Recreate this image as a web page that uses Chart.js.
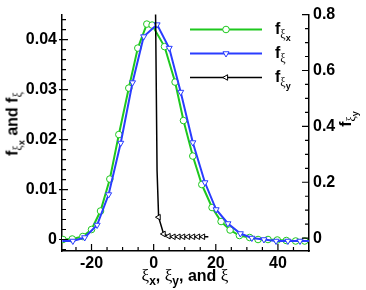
<!DOCTYPE html>
<html><head><meta charset="utf-8">
<script src="https://cdn.jsdelivr.net/npm/chart.js@4.4.1/dist/chart.umd.min.js"></script>
<style>
html,body{margin:0;padding:0;background:#fff;}
#wrap{position:relative;width:366px;height:290px;overflow:hidden;}
canvas{position:absolute;left:0;top:0;}
.t{position:absolute;white-space:nowrap;font:bold 16px "Liberation Sans",Arial,sans-serif;color:#000;line-height:normal;}
.g{font-family:"Liberation Serif","DejaVu Serif",serif;font-weight:normal;}
.s{font-size:12px;vertical-align:-4px;}
.ss{font-size:9px;vertical-align:-3px;font-weight:bold;font-family:"Liberation Sans",Arial,sans-serif;}
.rot{transform:translate(-50%,-50%) rotate(-90deg);}
</style></head><body>
<div id="wrap">
<canvas id="c" width="366" height="290"></canvas>
<div class="t rot" style="left:15px;top:124px;">f<span class="s g">ξ<span class="ss">x</span></span> and f<span class="s g">ξ</span></div>
<div class="t rot" style="left:348px;top:119px;">f<span class="s g">ξ<span class="ss">y</span></span></div>
<div class="t" style="left:185px;top:266px;transform:translateX(-50%);"><span class="g" style="font-size:17px">ξ</span><span class="s">x</span>, <span class="g" style="font-size:17px">ξ</span><span class="s">y</span>, and <span class="g" style="font-size:17px">ξ</span></div>
<div class="t" style="left:275px;top:20px;">f<span class="s g">ξ<span class="ss">x</span></span></div>
<div class="t" style="left:275px;top:44px;">f<span class="s g">ξ</span></div>
<div class="t" style="left:275px;top:68px;">f<span class="s g">ξ<span class="ss">y</span></span></div>
</div>
<script>
// ---- data ----
const greenX = [-29.2,-26.2,-22.8,-20.0,-17.1,-14.1,-11.2,-8.0,-5.1,-2.2,-0.5,3.5,6.9,9.6,12.6,15.5,18.8,21.7,24.6,27.6,30.9,33.6,36.8,39.8,42.7,45.7,48.6];
const greenY = [0.0000,0.0001,0.0006,0.0020,0.0057,0.0121,0.0210,0.0303,0.0383,0.0431,0.0429,0.0386,0.0315,0.0238,0.0167,0.0110,0.0064,0.0036,0.0019,0.0008,0.0004,0.0000,0.0000,-0.0001,-0.0002,-0.0003,-0.0003];
const blueX = [-29.4,-26.0,-22.2,-18.2,-14.5,-10.6,-6.8,-3.2,1.1,5.0,8.7,12.6,16.5,20.1,23.9,27.9,31.6,35.5,39.4,43.2,47.1,50.0];
const blueY = [-0.0003,-0.0003,0.0004,0.0029,0.0090,0.0193,0.0314,0.0406,0.0430,0.0383,0.0295,0.0194,0.0114,0.0060,0.0032,0.0012,0.0003,0.0000,-0.0003,-0.0003,-0.0003,-0.0003];
const blueMarker = [0,1,1,1,1,1,1,1,1,1,1,1,1,1,1,1,1,1,1,1,1,0];
const blackX = [0.45,1.1,1.6,3.2,4.8,6.4,8.0,9.5,11.1,12.7,14.3,15.9,17.6];
const blackY = [1.0,0.24,0.075,0.015,0.007,0.005,0.005,0.005,0.005,0.005,0.005,0.005,0.005];
const blackMarker = [0,0,1,1,1,1,1,1,1,1,1,1,0];
const seriesNames = ['f_ξx','f_ξ','f_ξy'];
const xMajor = [-20,0,20,40];
const xMinor = [-25,-15,-10,-5,5,10,15,25,30,35,45];
const yLMajor = [0,0.01,0.02,0.03,0.04];
const yLLabels = ['0','0.01','0.02','0.03','0.04'];
const yLMinor = [-0.002,0.002,0.004,0.006,0.008,0.012,0.014,0.016,0.018,0.022,0.024,0.026,0.028,0.032,0.034,0.036,0.038,0.042,0.044];
const yRMajor = [0,0.2,0.4,0.6,0.8];
const yRLabels = ['0','0.2','0.4','0.6','0.8'];
const yRMinor = [0.05,0.1,0.15,0.25,0.3,0.35,0.45,0.5,0.55,0.65,0.7,0.75];

const GREEN = '#1ec81e', BLUE = '#2a3cff', BLACK = '#000000';
const FONT = {family:'"Liberation Sans", Arial, sans-serif', size:16, weight:'bold'};

const pts = (xs,ys)=>xs.map((x,i)=>({x:x,y:ys[i]}));

const tickPlugin = {
  id:'ticks',
  afterDraw(chart){
    const ctx = chart.ctx, a = chart.chartArea;
    const sx = chart.scales.x, sl = chart.scales.y, sr = chart.scales.y2;
    ctx.save();
    ctx.strokeStyle = '#000'; ctx.lineWidth = 1.2;
    ctx.beginPath();
    xMajor.forEach(v=>{const p=sx.getPixelForValue(v); ctx.moveTo(p,a.bottom); ctx.lineTo(p,a.bottom-7);});
    xMinor.forEach(v=>{const p=sx.getPixelForValue(v); ctx.moveTo(p,a.bottom); ctx.lineTo(p,a.bottom-4);});
    yLMajor.forEach(v=>{const p=sl.getPixelForValue(v); ctx.moveTo(a.left-3,p); ctx.lineTo(a.left+6,p);});
    yLMinor.forEach(v=>{const p=sl.getPixelForValue(v); ctx.moveTo(a.left,p); ctx.lineTo(a.left+4,p);});
    yRMajor.forEach(v=>{const p=sr.getPixelForValue(v); ctx.moveTo(a.right,p); ctx.lineTo(a.right-7,p);});
    yRMinor.forEach(v=>{const p=sr.getPixelForValue(v); ctx.moveTo(a.right,p); ctx.lineTo(a.right-4,p);});
    ctx.stroke();
    // legend
    const rows = [{y:29.5,c:GREEN,s:'circle',r:3.3,rot:0,w:2},{y:53.5,c:BLUE,s:'triangle',r:3.5,rot:180,w:2},{y:77.5,c:BLACK,s:'triangle',r:3.2,rot:-90,w:1.5}];
    rows.forEach(o=>{
      ctx.strokeStyle=o.c; ctx.lineWidth=o.w;
      ctx.beginPath(); ctx.moveTo(190,o.y); ctx.lineTo(262,o.y); ctx.stroke();
      ctx.fillStyle='#fff'; ctx.lineWidth=1;
      Chart.helpers.drawPoint(ctx,{pointStyle:o.s,radius:o.r,rotation:o.rot,borderWidth:1},226,o.y);
    });
    ctx.restore();
  }
};

new Chart(document.getElementById('c'), {
  type:'line',
  data:{datasets:[
    {label:seriesNames[2], data:pts(blackX,blackY), yAxisID:'y2', borderColor:BLACK, borderWidth:1.5,
     pointStyle:'triangle', pointRotation:-90, pointRadius:blackMarker.map(m=>m?3.2:0), pointBackgroundColor:'#fff', pointBorderColor:BLACK, pointBorderWidth:1, tension:0},
    {label:seriesNames[1], data:pts(blueX,blueY), yAxisID:'y', borderColor:BLUE, borderWidth:2,
     pointStyle:'triangle', pointRotation:180, pointRadius:blueMarker.map(m=>m?3.5:0), pointBackgroundColor:'#fff', pointBorderColor:BLUE, pointBorderWidth:1, tension:0},
    {label:seriesNames[0], data:pts(greenX,greenY), yAxisID:'y', borderColor:GREEN, borderWidth:2,
     pointStyle:'circle', pointRadius:3.3, pointBackgroundColor:'#fff', pointBorderColor:GREEN, pointBorderWidth:1, tension:0}
  ]},
  options:{
    responsive:false, animation:false, devicePixelRatio:1,
    layout:{padding:{top:12,left:0,right:0,bottom:0}},
    plugins:{legend:{display:false}, tooltip:{enabled:false}},
    elements:{point:{hitRadius:0}},
    scales:{
      x:{type:'linear', min:-29.5, max:50,
         afterBuildTicks(s){s.ticks = xMajor.map(v=>({value:v}));},
         afterFit(s){s.height = 39;},
         ticks:{color:'#000', font:FONT, padding:3, maxRotation:0, autoSkip:false, callback:(v)=>String(v)},
         grid:{drawOnChartArea:false, drawTicks:false},
         border:{display:true, color:'#000', width:1.5}},
      y:{type:'linear', position:'left', min:-0.0023, max:0.045,
         afterBuildTicks(s){s.ticks = yLMajor.map(v=>({value:v}));},
         afterFit(s){s.width = 62;},
         ticks:{color:'#000', font:FONT, padding:5, autoSkip:false, callback:(v)=>yLLabels[yLMajor.indexOf(v)] ?? ''},
         grid:{drawOnChartArea:false, drawTicks:false},
         border:{display:true, color:'#000', width:1.5}},
      y2:{type:'linear', position:'right', min:-0.046, max:0.8,
         afterBuildTicks(s){s.ticks = yRMajor.map(v=>({value:v}));},
         afterFit(s){s.width = 57;},
         ticks:{color:'#000', font:FONT, padding:4, autoSkip:false, callback:(v)=>yRLabels[yRMajor.indexOf(v)] ?? ''},
         grid:{drawOnChartArea:false, drawTicks:false},
         border:{display:true, color:'#000', width:1.5}}
    }
  },
  plugins:[tickPlugin]
});
</script>
</body></html>
